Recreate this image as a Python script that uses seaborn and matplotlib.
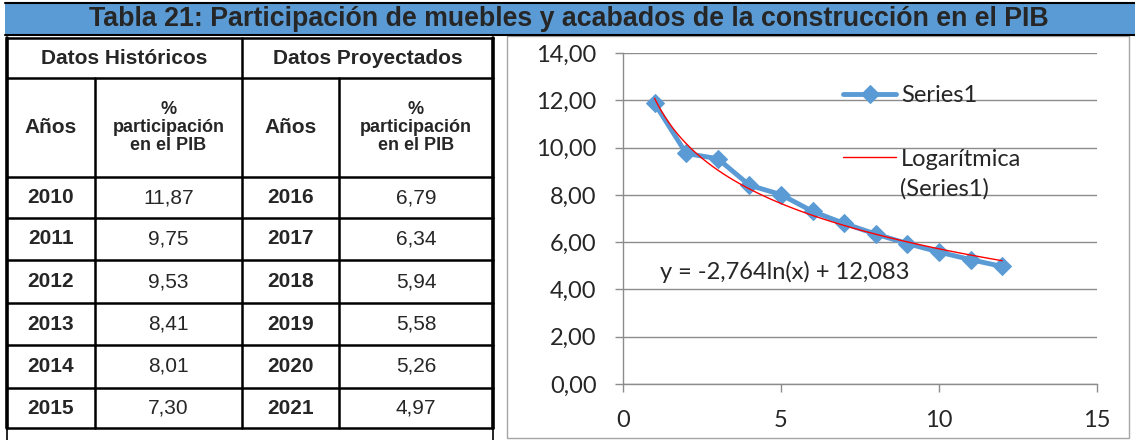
import numpy as np
import seaborn as sns
import matplotlib.pyplot as plt
from matplotlib.patches import Rectangle
from matplotlib.ticker import FuncFormatter

title = "Tabla 21: Participación de muebles y acabados de la construcción en el PIB"
years_hist = [2010, 2011, 2012, 2013, 2014, 2015]
pib_hist = [11.87, 9.75, 9.53, 8.41, 8.01, 7.30]
years_proj = [2016, 2017, 2018, 2019, 2020, 2021]
pib_proj = [6.79, 6.34, 5.94, 5.58, 5.26, 4.97]
periods = list(range(1, 13))
values = pib_hist + pib_proj
equation = "y = -2,764ln(x) + 12,083"

blue = "#5B9BD5"
grey = "#8C8C8C"

sns.set_style("white")
plt.rcParams['font.family'] = ['Liberation Sans', 'DejaVu Sans']

W, H = 1135, 440
fig = plt.figure(figsize=(W / 100, H / 100), dpi=100)

# background canvas in pixel coords for title bar and table
bg = fig.add_axes([0, 0, 1, 1])
bg.set_xlim(0, W)
bg.set_ylim(H, 0)
bg.axis('off')

bg.add_patch(Rectangle((5, 3), W - 5, 32, facecolor=blue, edgecolor='none'))
bg.plot([5, W], [3, 3], color='black', lw=1.5)
bg.plot([5, W], [35, 35], color='black', lw=1.5)
bg.text(569, 19.5, title, ha='center', va='center', fontsize=19.3, fontweight='bold')

# chart frame
bg.add_patch(Rectangle((507, 36), 622, 402, facecolor='none', edgecolor='#A6A6A6', lw=1))

# table grid
cols = [7, 95, 242, 339, 493]
rows = [38, 78, 177, 218, 260, 303, 345, 388, 428]
for y in rows:
    bg.plot([cols[0], cols[-1]], [y, y], color='black', lw=1.8)
for x in cols[1:-1]:
    top = 78 if x in (95, 339) else 38
    bg.plot([x, x], [top, rows[-1]], color='black', lw=1.8)
for x in (cols[0], cols[-1]):
    bg.plot([x, x], [38, rows[-1]], color='black', lw=2.6)
    bg.plot([x, x], [rows[-1], H], color='black', lw=1.2)

centers = [(a + b) / 2 for a, b in zip(cols[:-1], cols[1:])]
bg.text((cols[0] + cols[2]) / 2, 58, "Datos Históricos", ha='center', va='center',
        fontsize=15, fontweight='bold')
bg.text((cols[2] + cols[4]) / 2, 58, "Datos Proyectados", ha='center', va='center',
        fontsize=15, fontweight='bold')
for i in (0, 2):
    bg.text(centers[i], 127.5, "Años", ha='center', va='center', fontsize=15, fontweight='bold')
    bg.text(centers[i + 1], 127.5, "%\nparticipación\nen el PIB", ha='center', va='center',
            fontsize=13, fontweight='bold', linespacing=1.1)

fmt = lambda v: f"{v:.2f}".replace('.', ',')
for r in range(6):
    yc = (rows[r + 2] + rows[r + 3]) / 2
    bg.text(centers[0], yc, str(years_hist[r]), ha='center', va='center', fontsize=15, fontweight='bold')
    bg.text(centers[1], yc, fmt(pib_hist[r]), ha='center', va='center', fontsize=15)
    bg.text(centers[2], yc, str(years_proj[r]), ha='center', va='center', fontsize=15, fontweight='bold')
    bg.text(centers[3], yc, fmt(pib_proj[r]), ha='center', va='center', fontsize=15)

# chart
ax = fig.add_axes([623 / W, (H - 384) / H, (1097 - 623) / W, (384 - 53) / H])
sns.lineplot(x=periods, y=values, marker='D', markersize=9.5, color=blue, lw=3.5,
             markeredgecolor=blue, ax=ax)
sns.regplot(x=periods, y=values, logx=True, scatter=False, ci=None, color='red',
            line_kws={'lw': 1}, ax=ax)
ax.set(xlim=(0, 15), ylim=(0, 14), xlabel='', ylabel='')
ax.set_xticks([0, 5, 10, 15])
ax.set_yticks(np.arange(0, 15, 2))
ax.yaxis.set_major_formatter(FuncFormatter(lambda v, p: fmt(v)))
ax.yaxis.grid(True, color=grey, lw=1)
ax.set_axisbelow(True)
ax.patch.set_alpha(0)
for s in ('top', 'right'):
    ax.spines[s].set_visible(False)
for s in ('left', 'bottom'):
    ax.spines[s].set_color(grey)
    ax.spines[s].set_linewidth(1)
ax.tick_params(axis='both', direction='out', length=6, width=1, color=grey,
               labelsize=17, left=True, bottom=True)
ax.tick_params(axis='x', pad=13)
ax.tick_params(axis='y', pad=13)
for lab in ax.get_xticklabels() + ax.get_yticklabels():
    lab.set_fontfamily(['Lato', 'DejaVu Sans'])

leg = ax.legend([ax.lines[0], ax.lines[1]], ['Series1', 'Logarítmica'],
                loc='upper left', bbox_to_anchor=(843 / W, (H - 85) / H),
                bbox_transform=fig.transFigure, frameon=False, handlelength=2.25,
                handletextpad=0.2, labelspacing=1.8, borderpad=0, borderaxespad=0,
                prop={'family': ['Lato', 'DejaVu Sans'], 'size': 17})
fig.text(900 / W, 1 - 189 / H, "(Series1)", va='center', fontsize=17,
         family=['Lato', 'DejaVu Sans'])
ax.text(660 / W, 1 - 272 / H, equation, transform=fig.transFigure, va='center',
        fontsize=17, family=['Lato', 'DejaVu Sans'])

fig.savefig("out.png", dpi=100)
